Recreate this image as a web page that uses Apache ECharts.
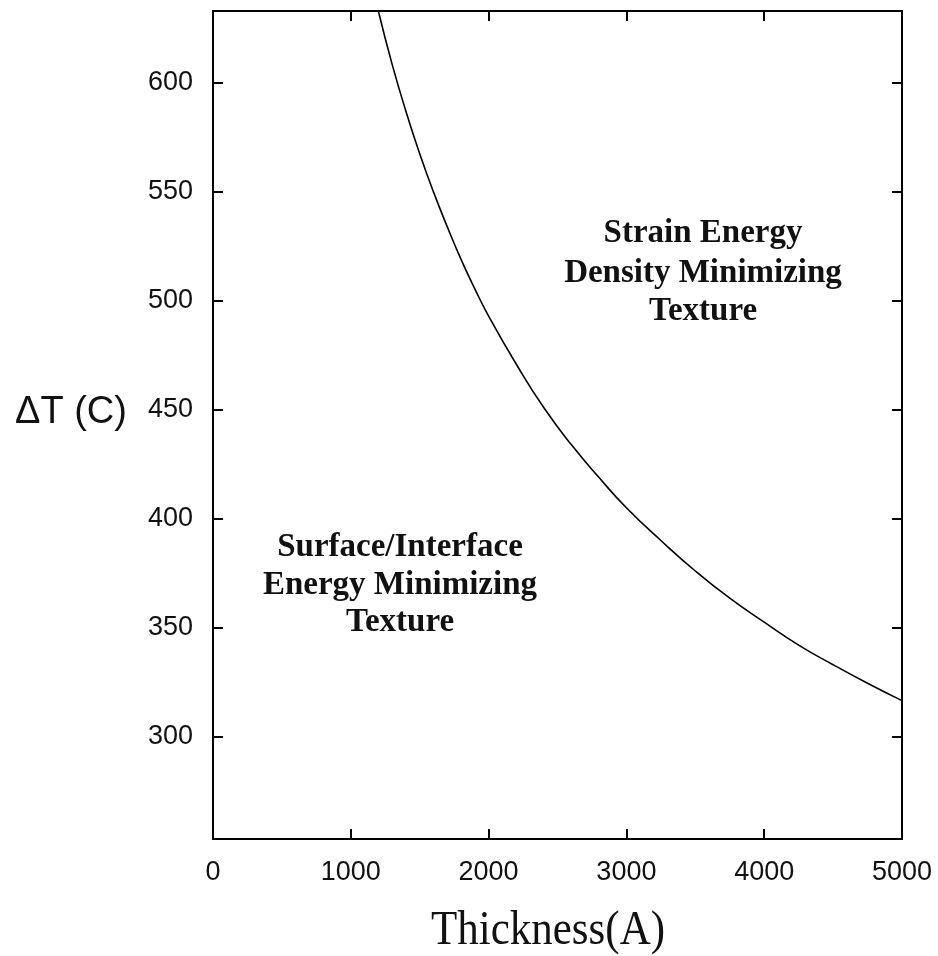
<!DOCTYPE html>
<html>
<head>
<meta charset="utf-8">
<title>Texture map: ΔT vs thickness</title>
<script src="https://cdn.jsdelivr.net/npm/echarts@6/dist/echarts.min.js"></script>
<style>
  html, body { margin: 0; padding: 0; background: #fff; }
  #chart { width: 938px; height: 956px; }
</style>
</head>
<body>
<div id="chart"></div>
<script>
// Boundary between the two texture regimes: film thickness (Å) and ΔT (°C)
const thickness = [1200, 1300, 1400, 1500, 1600, 1700, 1800, 1900, 2000, 2200, 2400, 2600,
                   2800, 3000, 3250, 3500, 3750, 4000, 4250, 4500, 4750, 5000];
const deltaT = [633, 608.5, 587, 567.5, 550, 534, 519, 505.5, 493, 471, 451, 434,
                419, 405, 390, 376, 363.5, 352.5, 342, 333, 324.5, 316.5];

const xTicks = [0, 1000, 2000, 3000, 4000, 5000];
const yTicks = [300, 350, 400, 450, 500, 550, 600];

const xRange = [0, 5000];
const yRange = [253, 633];

// Region captions, one entry per line
const upperRegion = ['Strain Energy', 'Density Minimizing', 'Texture'];
const lowerRegion = ['Surface/Interface', 'Energy Minimizing', 'Texture'];

const boundary = thickness.map((h, i) => [h, deltaT[i]]);

const chart = echarts.init(document.getElementById('chart'), null, { renderer: 'canvas' });

const sansLabel = { fontFamily: '"Liberation Sans", Arial, sans-serif', fontSize: 27, color: '#111' };
const serif = '"Liberation Serif", "Times New Roman", serif';

function frameLine() {
  return { show: true, onZero: false, lineStyle: { color: '#000', width: 2 } };
}
function tickStyle() {
  return { show: true, inside: true, length: 10, lineStyle: { color: '#000', width: 2 } };
}

function yAxisDef(position, withLabels) {
  return {
    type: 'value', position: position, min: yRange[0], max: yRange[1], splitNumber: 8,
    axisLine: frameLine(),
    axisTick: tickStyle(),
    axisLabel: withLabels
      ? Object.assign({ margin: 20, showMinLabel: false, showMaxLabel: false,
          formatter: v => yTicks.includes(v) ? String(v) : '' }, sansLabel)
      : { show: false },
    splitLine: { show: false }
  };
}

function xAxisDef(position, withLabels) {
  return {
    type: 'value', position: position, min: xRange[0], max: xRange[1], interval: 1000,
    axisLine: frameLine(),
    axisTick: tickStyle(),
    axisLabel: withLabels
      ? Object.assign({ margin: 20, formatter: v => xTicks.includes(v) ? String(v) : '' }, sansLabel)
      : { show: false },
    splitLine: { show: false }
  };
}

function captionLines(lines, cx, cys) {
  return lines.map((t, i) => ({
    type: 'text', x: cx, y: cys[i],
    style: { text: t, font: 'bold 33px ' + serif, fill: '#111', align: 'center', verticalAlign: 'middle' }
  }));
}

const option = {
  animation: false,
  backgroundColor: '#fff',
  grid: { left: 213, right: 36, top: 11, bottom: 117, containLabel: false },
  xAxis: [xAxisDef('bottom', true), xAxisDef('top', false)],
  yAxis: [yAxisDef('left', true), yAxisDef('right', false)],
  series: [
    {
      type: 'line', xAxisIndex: 0, yAxisIndex: 0,
      data: boundary, smooth: true, showSymbol: false, clip: true,
      lineStyle: { color: '#000', width: 1.6 }
    }
  ],
  graphic: [
    {
      type: 'text', x: 71, y: 413,
      style: { text: 'ΔT (C)', font: '38px "Liberation Sans", Arial, sans-serif', fill: '#111',
               align: 'center', verticalAlign: 'middle' }
    },
    {
      type: 'text', x: 548, y: 931, scaleY: 1.12,
      style: { text: 'Thickness(A)', font: '43px ' + serif, fill: '#111',
               align: 'center', verticalAlign: 'middle' }
    }
  ]
    .concat(captionLines(upperRegion, 703, [233, 273, 311]))
    .concat(captionLines(lowerRegion, 400, [547, 585, 622]))
};

chart.setOption(option);
</script>
</body>
</html>
